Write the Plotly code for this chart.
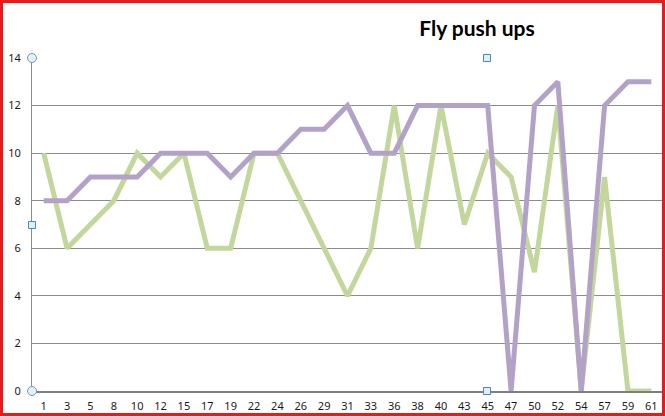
import plotly.graph_objects as go

# Category labels (x axis)
days = ["1", "3", "5", "8", "10", "12", "15", "17", "19", "22", "24", "26", "29",
        "31", "33", "36", "38", "40", "43", "45", "47", "50", "52", "54", "57", "59", "61"]

# Series values
purple_vals = [8, 8, 9, 9, 9, 10, 10, 10, 9, 10, 10, 11, 11,
               12, 10, 10, 12, 12, 12, 12, 0, 12, 13, 0, 12, 13, 13]
green_vals = [10, 6, 7, 8, 10, 9, 10, 6, 6, 10, 10, 8, 6,
              4, 6, 12, 6, 12, 7, 10, 9, 5, 12, 0, 9, 0, 0]

y_ticks = [0, 2, 4, 6, 8, 10, 12, 14]

W, H = 665, 416
L, R, T, B = 32, 2, 58, 25
PW, PH = W - L - R, H - T - B


def px(x):
    return (x - L) / PW


def py(y):
    return (H - B - y) / PH


fig = go.Figure()
fig.add_trace(go.Scatter(x=days, y=green_vals, mode="lines",
                         line=dict(color="#C3D69B", width=5), showlegend=False))
fig.add_trace(go.Scatter(x=days, y=purple_vals, mode="lines",
                         line=dict(color="#B3A2C7", width=5), showlegend=False))

shapes = []
# red outer border
shapes.append(dict(type="rect", xref="paper", yref="paper",
                   x0=px(1.5), x1=px(663.5), y0=py(414.5), y1=py(1.5),
                   line=dict(color="#E51C1C", width=3), fillcolor="rgba(0,0,0,0)", layer="above"))
# selection handles (decoration)
for (cx, cy) in [(32, 58), (32, 391)]:
    shapes.append(dict(type="circle", xref="paper", yref="paper",
                       x0=px(cx - 4.5), x1=px(cx + 4.5), y0=py(cy + 4.5), y1=py(cy - 4.5),
                       line=dict(color="#6E98B4", width=1), fillcolor="#E4F1F8", layer="above"))
for (cx, cy) in [(32, 225), (487, 58), (487, 391)]:
    shapes.append(dict(type="rect", xref="paper", yref="paper",
                       x0=px(cx - 3.5), x1=px(cx + 3.5), y0=py(cy + 3.5), y1=py(cy - 3.5),
                       line=dict(color="#4F89A8", width=1), fillcolor="#DDF0F8", layer="above"))

fig.update_layout(
    width=W, height=H,
    margin=dict(l=L, r=R, t=T, b=B),
    paper_bgcolor="white", plot_bgcolor="white",
    title=dict(text="<b>Fly push ups</b>", x=px(477), xref="paper", xanchor="center",
               y=1 - 29 / H, yref="container", yanchor="middle",
               font=dict(family="Lato", size=21, color="#000000")),
    xaxis=dict(type="category", range=[-0.5, len(days) - 0.5], showgrid=False,
               showline=True, linecolor="#7F7F7F", linewidth=2,
               ticks="", tickfont=dict(family="Noto Sans", size=11, color="#1a1a1a"),
               ticklabelstandoff=4, fixedrange=True),
    yaxis=dict(range=[0, 14], tickvals=y_ticks, showgrid=True, gridcolor="#8C8C8C", gridwidth=1,
               showline=True, linecolor="#8C8C8C", linewidth=1, zeroline=False,
               ticks="", tickfont=dict(family="Noto Sans", size=11, color="#1a1a1a"),
               ticklabelstandoff=8),
    shapes=shapes,
)

fig.write_html("out.html", config={"displayModeBar": False},
               post_script="document.body.style.margin='0';document.body.style.overflow='hidden';")
